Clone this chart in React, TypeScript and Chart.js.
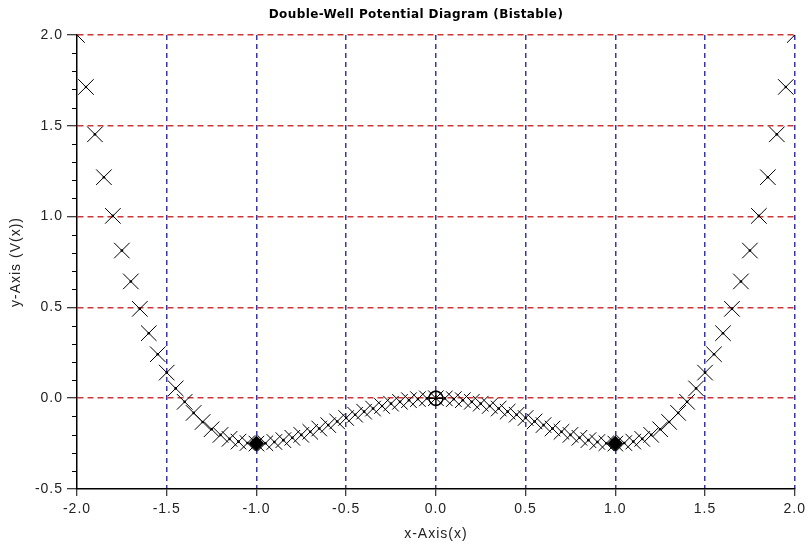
import React, { useEffect, useRef } from "react";
import { Chart, registerables } from "chart.js";

Chart.register(...registerables);

const TITLE = "Double-Well Potential Diagram (Bistable)";
const X_TITLE = "x-Axis(x)";
const Y_TITLE = "y-Axis (V(x))";

const X_VALUES = [
  -2.0, -1.95, -1.9, -1.85, -1.8, -1.75, -1.7, -1.65, -1.6, -1.55,
  -1.5, -1.45, -1.4, -1.35, -1.3, -1.25, -1.2, -1.15, -1.1, -1.05,
  -1.0, -0.95, -0.9, -0.85, -0.8, -0.75, -0.7, -0.65, -0.6, -0.55,
  -0.5, -0.45, -0.4, -0.35, -0.3, -0.25, -0.2, -0.15, -0.1, -0.05,
  0.0,
  0.05, 0.1, 0.15, 0.2, 0.25, 0.3, 0.35, 0.4, 0.45, 0.5,
  0.55, 0.6, 0.65, 0.7, 0.75, 0.8, 0.85, 0.9, 0.95, 1.0,
  1.05, 1.1, 1.15, 1.2, 1.25, 1.3, 1.35, 1.4, 1.45, 1.5,
  1.55, 1.6, 1.65, 1.7, 1.75, 1.8, 1.85, 1.9, 1.95, 2.0,
];

const Y_VALUES = [
  2.0, 1.714, 1.453, 1.217, 1.004, 0.813, 0.643, 0.492, 0.358, 0.242,
  0.141, 0.054, -0.02, -0.081, -0.131, -0.171, -0.202, -0.224, -0.239, -0.247,
  -0.25, -0.248, -0.241, -0.231, -0.218, -0.202, -0.185, -0.167, -0.148, -0.128,
  -0.109, -0.091, -0.074, -0.057, -0.043, -0.03, -0.02, -0.011, -0.005, -0.001,
  0.0,
  -0.001, -0.005, -0.011, -0.02, -0.03, -0.043, -0.057, -0.074, -0.091, -0.109,
  -0.128, -0.148, -0.167, -0.185, -0.202, -0.218, -0.231, -0.241, -0.248, -0.25,
  -0.247, -0.239, -0.224, -0.202, -0.171, -0.131, -0.081, -0.02, 0.054, 0.141,
  0.242, 0.358, 0.492, 0.643, 0.813, 1.004, 1.217, 1.453, 1.714, 2.0,
];

const MIN_X = [-1.0, 1.0];
const MIN_Y = [-0.25, -0.25];
const MAX_X = [0.0];
const MAX_Y = [0.0];

const X_MIN = -2.0;
const X_MAX = 2.0;
const Y_MIN = -0.5;
const Y_MAX = 2.0;
const MAJOR_STEP = 0.5;
const Y_MINOR_STEP = 0.1;

const RED = "rgb(205,55,55)";
const BLUE = "rgb(55,55,165)";

const textSpacing = {
  id: "textSpacing",
  beforeUpdate(chart: any) {
    chart.ctx.letterSpacing = "1px";
  },
  beforeDraw(chart: any) {
    chart.ctx.letterSpacing = "1px";
  },
};

const minorTicksAndTitle = {
  id: "minorTicksAndTitle",
  afterDraw(chart: any) {
    const y = chart.scales.y;
    const ctx = chart.ctx;
    const area = chart.chartArea;
    ctx.save();
    ctx.strokeStyle = "#000";
    ctx.lineWidth = 1;
    const n = Math.round((Y_MAX - Y_MIN) / Y_MINOR_STEP);
    for (let i = 0; i <= n; i++) {
      const v = Y_MIN + i * Y_MINOR_STEP;
      const r = v / MAJOR_STEP;
      if (Math.abs(r - Math.round(r)) < 1e-6) continue;
      const py = Math.round(y.getPixelForValue(v)) + 0.5;
      ctx.beginPath();
      ctx.moveTo(area.left - 5, py);
      ctx.lineTo(area.left, py);
      ctx.stroke();
    }
    // chart title
    ctx.letterSpacing = "0.4px";
    ctx.fillStyle = "#000";
    ctx.font = "bold 12px 'DejaVu Sans'";
    ctx.textAlign = "center";
    ctx.textBaseline = "middle";
    ctx.fillText(TITLE, 416, 15);
    ctx.restore();
  },
};

export default function App() {
  const ref = useRef<HTMLCanvasElement | null>(null);

  useEffect(() => {
    if (!ref.current) return;
    const pts = X_VALUES.map((x, i) => ({ x, y: Y_VALUES[i] }));
    const mins = MIN_X.map((x, i) => ({ x, y: MIN_Y[i] }));
    const maxs = MAX_X.map((x, i) => ({ x, y: MAX_Y[i] }));
    const chart = new Chart(ref.current, {
      type: "scatter",
      data: {
        datasets: [
          {
            data: pts,
            showLine: false,
            pointStyle: "crossRot",
            pointRadius: 11,
            pointBorderWidth: 1,
            pointBorderColor: "#000",
            pointBackgroundColor: "#000",
          },
          {
            data: pts,
            showLine: false,
            pointStyle: "circle",
            pointRadius: 1.3,
            pointBorderWidth: 0,
            pointBackgroundColor: "#000",
          },
          {
            data: mins,
            showLine: false,
            pointStyle: "rectRot",
            pointRadius: 7.5,
            pointBorderWidth: 1,
            pointBorderColor: "#000",
            pointBackgroundColor: "#000",
          },
          {
            data: maxs,
            showLine: false,
            pointStyle: "circle",
            pointRadius: 7,
            pointBorderWidth: 1.4,
            pointBorderColor: "#000",
            pointBackgroundColor: "rgba(0,0,0,0)",
          },
          {
            data: maxs,
            showLine: false,
            pointStyle: "cross",
            pointRadius: 7,
            pointBorderWidth: 1.4,
            pointBorderColor: "#000",
          },
        ],
      },
      options: {
        responsive: false,
        animation: false,
        devicePixelRatio: 1,
        layout: { padding: { left: 0, right: 15, top: 35, bottom: 0 } },
        plugins: {
          legend: { display: false },
          tooltip: { enabled: false },
          title: { display: false },
        },
        scales: {
          x: {
            type: "linear",
            min: X_MIN,
            max: X_MAX,
            afterFit: (s: any) => {
              s.height = 57;
            },
            ticks: {
              stepSize: MAJOR_STEP,
              color: "#222",
              font: { family: "Liberation Sans", size: 14 },
              padding: 5,
              callback: (v: any) => Number(v).toFixed(1),
            },
            grid: {
              color: (c: any) =>
                c.tick && Math.abs(c.tick.value - X_MIN) < 1e-9 ? "rgba(0,0,0,0)" : BLUE,
              lineWidth: 1.5,
              tickLength: 7,
              tickColor: "#000",
              tickWidth: 1,
              tickBorderDash: [],
            },
            border: { display: true, color: "#000", width: 1.5, dash: [5, 4] },
            title: {
              display: true,
              text: X_TITLE,
              color: "#222",
              font: { family: "Liberation Sans", size: 14 },
              padding: { top: 0, bottom: 3 },
            },
          },
          y: {
            type: "linear",
            min: Y_MIN,
            max: Y_MAX,
            afterFit: (s: any) => {
              s.width = 77;
            },
            ticks: {
              stepSize: MAJOR_STEP,
              color: "#222",
              font: { family: "Liberation Sans", size: 14 },
              padding: 4,
              callback: (v: any) => Number(v).toFixed(1),
            },
            grid: {
              color: (c: any) =>
                c.tick && Math.abs(c.tick.value - Y_MIN) < 1e-9 ? "rgba(0,0,0,0)" : RED,
              lineWidth: 1.5,
              tickLength: 10,
              tickColor: "#000",
              tickWidth: 1,
              tickBorderDash: [],
            },
            border: { display: true, color: "#000", width: 1.5, dash: [6, 4] },
            title: {
              display: true,
              text: Y_TITLE,
              color: "#222",
              font: { family: "Liberation Sans", size: 14 },
              padding: { top: 8, bottom: 0 },
            },
          },
        },
      },
      plugins: [textSpacing, minorTicksAndTitle],
    });
    return () => chart.destroy();
  }, []);

  return (
    <div style={{ position: "absolute", left: 0, top: 0, width: 811, height: 546, background: "#fff" }}>
      <canvas ref={ref} width={811} height={546} />
    </div>
  );
}
